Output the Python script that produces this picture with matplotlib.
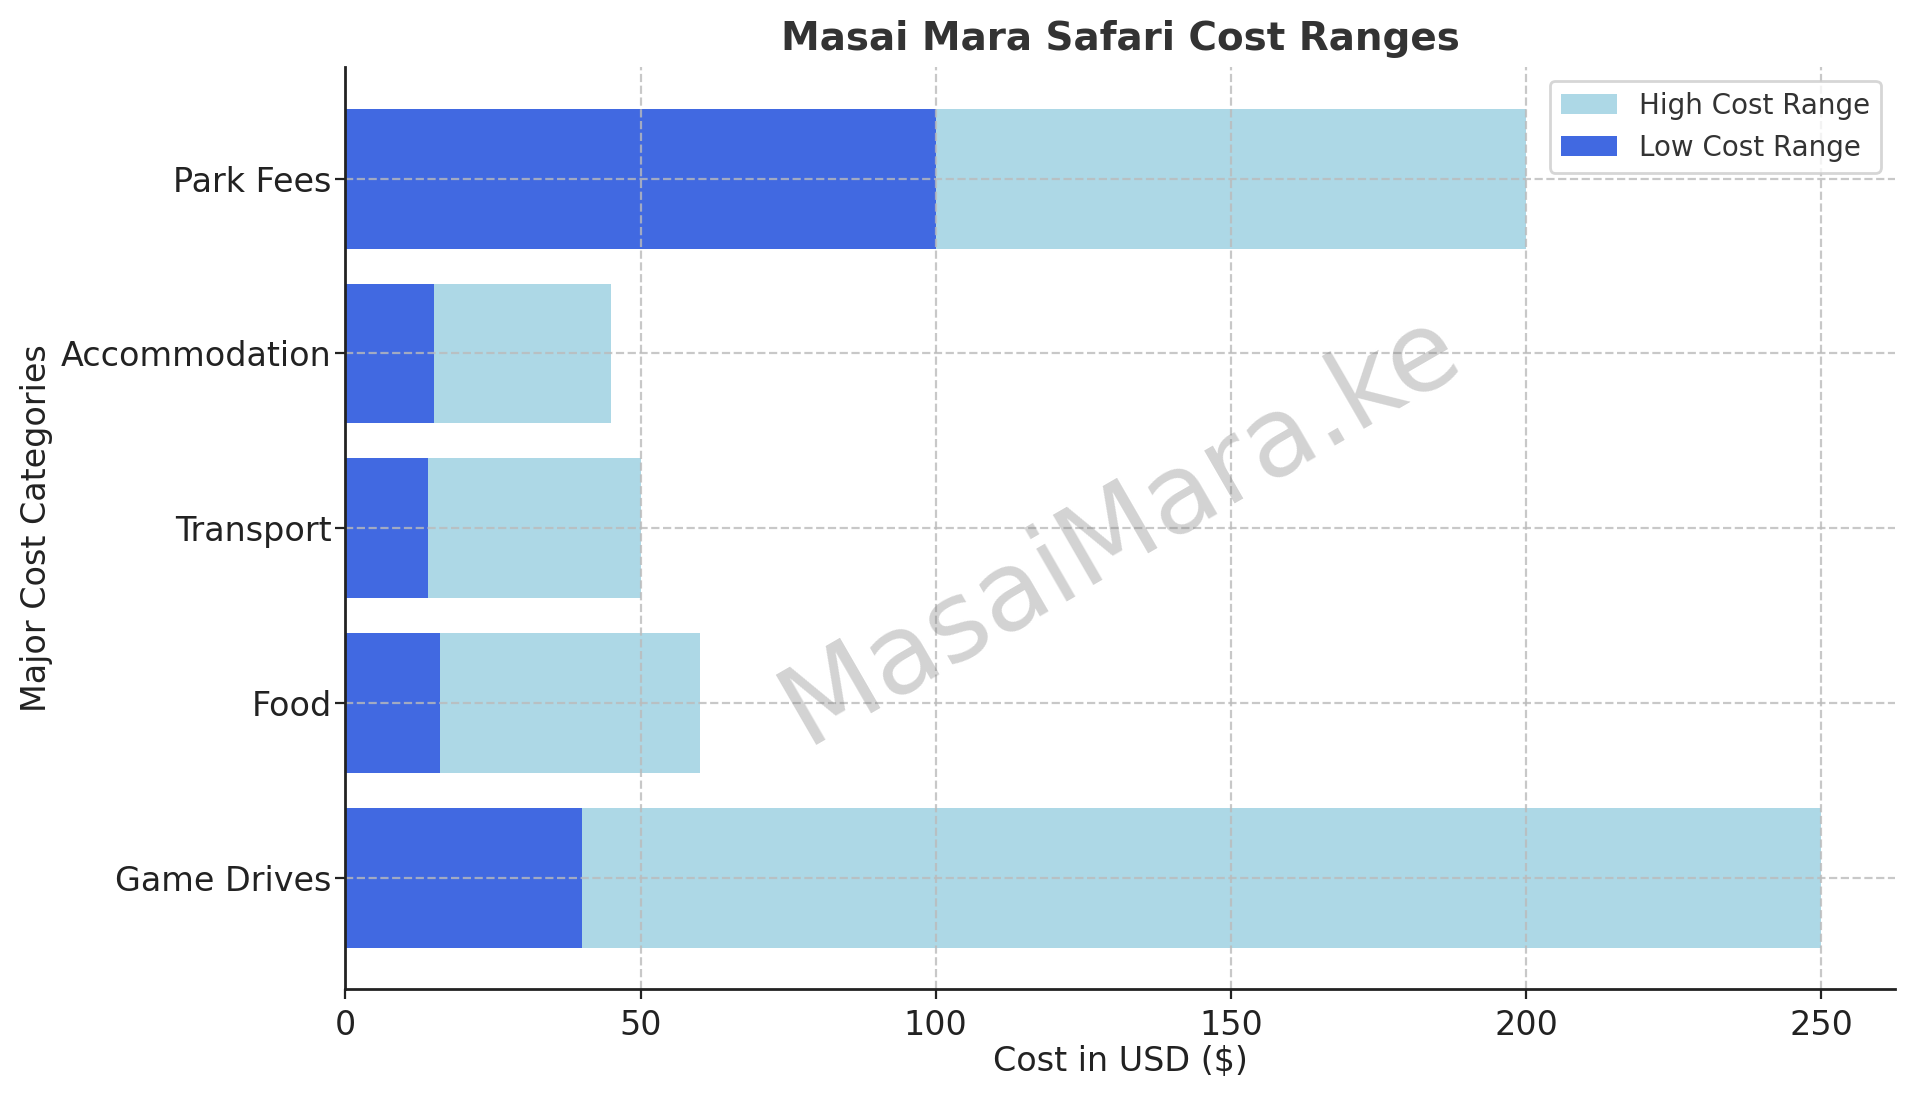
import matplotlib
matplotlib.use("Agg")
import matplotlib.pyplot as plt

categories = ["Game Drives", "Food", "Transport", "Accommodation", "Park Fees"]
low_cost = [40, 16, 14, 15, 100]
high_cost = [250, 60, 50, 45, 200]

fig, ax = plt.subplots(figsize=(9.57, 5.485), dpi=200)
fig.subplots_adjust(left=0.1805, right=0.990, top=0.939, bottom=0.098)

ax.barh(categories, high_cost, color="lightblue", label="High Cost Range")
ax.barh(categories, low_cost, color="royalblue", label="Low Cost Range")

ax.set_title("Masai Mara Safari Cost Ranges", fontsize=14, fontweight="bold", color="#333333")
ax.set_xlabel("Cost in USD ($)", fontsize=12, color="#222222", labelpad=1)
ax.set_ylabel("Major Cost Categories", fontsize=12, color="#222222", labelpad=3)
ax.tick_params(axis="both", labelsize=12, colors="#222222")
ax.tick_params(axis="y", pad=1.5)
ax.set_xticks([0, 50, 100, 150, 200, 250])

ax.grid(True, linestyle="--", color="#bbbbbb", alpha=0.8, linewidth=0.8)
ax.spines["top"].set_visible(False)
ax.spines["right"].set_visible(False)
for s in ["left", "bottom"]:
    ax.spines[s].set_color("#222222")
    ax.spines[s].set_linewidth(1.0)

leg = ax.legend(loc="upper right", fontsize=10)
for t in leg.get_texts():
    t.set_color("#333333")

ax.text(0.5, 0.5, "MasaiMara.ke", transform=ax.transAxes, fontsize=40,
        color="gray", alpha=0.35, rotation=30, ha="center", va="center")

fig.savefig("out.png", dpi=200)
